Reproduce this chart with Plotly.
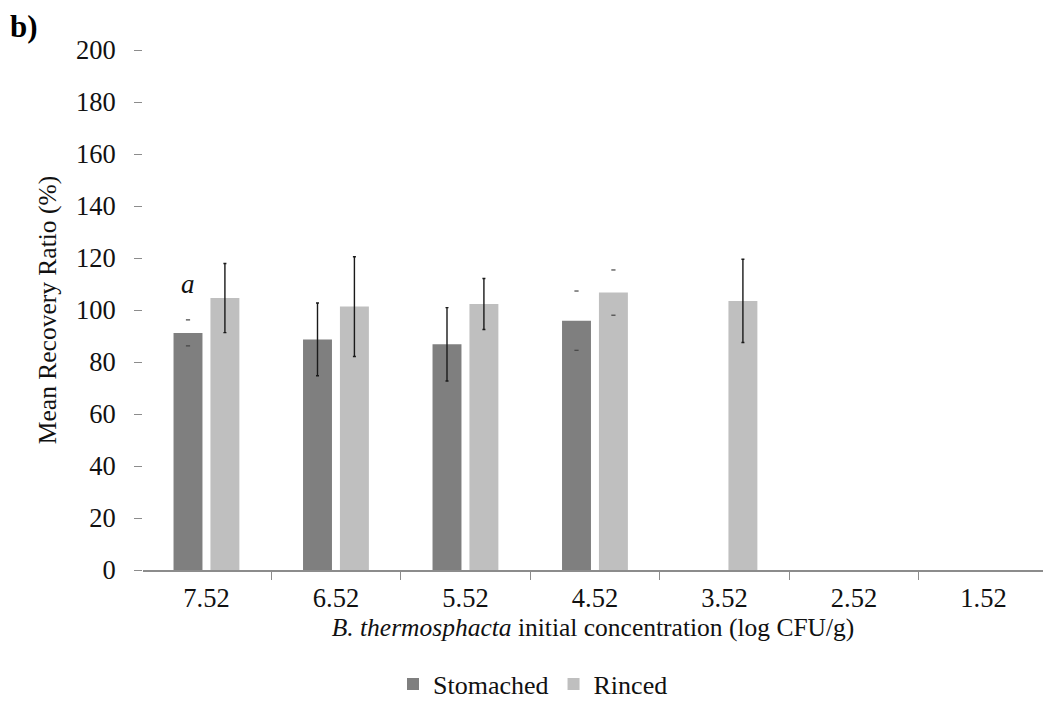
import plotly.graph_objects as go

# Initial concentrations (log CFU/g), in the order they are plotted
categories = ["7.52", "6.52", "5.52", "4.52", "3.52", "2.52", "1.52"]

# Mean recovery ratio (%) and its error for each recovery method
stomached = [91.2, 88.7, 86.8, 95.9, None, None, None]
stomached_err = [5.0, 14.0, 14.1, 11.4, None, None, None]
rinced = [104.6, 101.3, 102.3, 106.7, 103.5, None, None]
rinced_err = [13.3, 19.2, 9.8, 8.7, 16.0, None, None]

# Error bars that only show their end caps
stomached_caps_only = [True, False, False, True, False, False, False]
rinced_caps_only = [False, False, False, True, False, False, False]

y_ticks = list(range(0, 201, 20))

FONT = "Liberation Serif"
DARK = "#7f7f7f"
LIGHT = "#bfbfbf"
AXIS = "#8c8c8c"
INK = "#111111"

BARGAP = 0.43
BARGROUPGAP = 0.216

W, H = 1043, 702
M_L, M_R, M_T, M_B = 143, 0, 50, 132
CAT_PX = 129.5
x_lo = -0.49
x_hi = x_lo + (W - M_L - M_R) / CAT_PX

slot = (1 - BARGAP) / 2
series = [
    ("Stomached", DARK, stomached, stomached_err, stomached_caps_only, -slot / 2),
    ("Rinced", LIGHT, rinced, rinced_err, rinced_caps_only, slot / 2),
]

fig = go.Figure()

for name, color, vals, errs, caps, _ in series:
    fig.add_trace(go.Bar(name=name, x=categories, y=vals,
                         marker_color=color, marker_line_width=0))

# Error bars on a numeric axis aligned with the bar slots
for name, color, vals, errs, caps, offset in series:
    sx, sy, se = [], [], []
    cx, cy = [], []
    for i, (v, e, c) in enumerate(zip(vals, errs, caps)):
        if v is None:
            continue
        if c:
            cx += [i + offset, i + offset]
            cy += [v + e, v - e]
        else:
            sx.append(i + offset)
            sy.append(v)
            se.append(e)
    fig.add_trace(go.Scatter(
        x=sx, y=sy, xaxis="x2", mode="markers", showlegend=False,
        hoverinfo="skip", marker=dict(size=1, opacity=0),
        error_y=dict(type="data", array=se, color="#1a1a1a",
                     thickness=1.4, width=1.5),
    ))
    if cx:
        fig.add_trace(go.Scatter(
            x=cx, y=cy, xaxis="x2", mode="markers", showlegend=False,
            hoverinfo="skip",
            marker=dict(symbol="line-ew", size=3,
                        line=dict(width=1.2, color="#444")),
        ))

fig.add_annotation(
    x=-slot / 2, y=stomached[0] + stomached_err[0], xref="x2", yref="y",
    text="<i>a</i>", showarrow=False, yanchor="bottom", yshift=19,
    font=dict(family=FONT, size=27, color=INK),
)

fig.update_layout(
    width=W, height=H,
    margin=dict(l=M_L, r=M_R, t=M_T, b=M_B),
    paper_bgcolor="white", plot_bgcolor="white",
    barmode="group", bargap=BARGAP, bargroupgap=BARGROUPGAP,
    font=dict(family=FONT, size=25, color=INK),
    title=dict(text="<b>b)</b>", xref="container", yref="container",
               x=10 / W, xanchor="left", y=1 - 26 / H, yanchor="middle",
               font=dict(family=FONT, size=31, color="#000")),
    xaxis=dict(
        type="category", range=[x_lo, x_hi], tickson="boundaries",
        ticks="outside", ticklen=8, tickwidth=1, tickcolor=AXIS,
        showline=True, linecolor=AXIS, linewidth=1.5,
        showgrid=False, zeroline=False, ticklabelstandoff=3,
        tickfont=dict(family=FONT, size=26.5, color=INK),
        title=dict(text="<i>B. thermosphacta</i> initial concentration (log CFU/g)",
                   standoff=4, font=dict(family=FONT, size=25.5, color=INK)),
    ),
    xaxis2=dict(overlaying="x", range=[x_lo, x_hi], visible=False),
    yaxis=dict(
        range=[0, 200], tickvals=y_ticks, ticks="outside", ticklen=8,
        tickwidth=1, tickcolor=AXIS, showline=False, showgrid=False,
        zeroline=False, ticklabelstandoff=13,
        tickfont=dict(family=FONT, size=26.5, color=INK),
        title=dict(text="Mean Recovery Ratio (%)", standoff=12,
                   font=dict(family=FONT, size=25.5, color=INK)),
    ),
    legend=dict(orientation="h", xref="container", yref="container",
                x=533 / W, xanchor="center", y=1 - 684 / H, yanchor="middle",
                font=dict(family=FONT, size=26, color=INK),
                itemwidth=30, traceorder="normal", borderwidth=0),
)

fig.write_html("out.html")
